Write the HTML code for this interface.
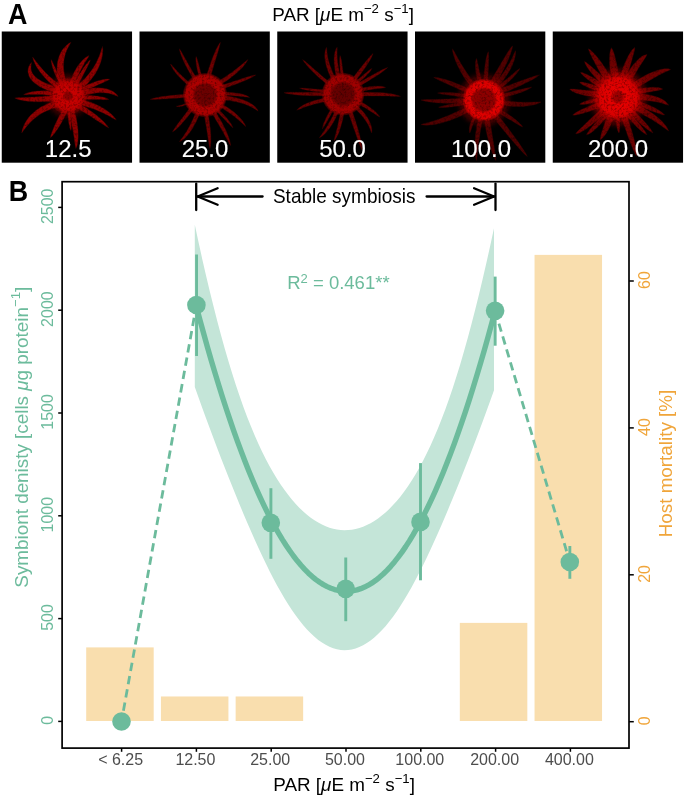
<!DOCTYPE html>
<html lang="en"><head><meta charset="utf-8"><title>Symbiont density vs PAR</title>
<style>
html,body{margin:0;padding:0;background:#fff;}
svg{display:block;}
text{font-family:"Liberation Sans", sans-serif;}
.tl{font-size:16px;fill:#6CBB9C;}
.tr{font-size:16px;fill:#F0A53A;}
.tx{font-size:16px;fill:#4D4D4D;}
.ttl{font-size:18.85px;fill:#000;}
.pl{font-size:24px;fill:#fff;stroke:#fff;stroke-width:0.12px;}
.sup{font-size:13.2px;}
</style></head><body>
<svg width="685" height="800" viewBox="0 0 685 800">
<defs>
<filter id="soft" x="-5%" y="-5%" width="110%" height="110%"><feTurbulence type="fractalNoise" baseFrequency="0.45" numOctaves="2" seed="4" result="n"/><feColorMatrix in="n" type="matrix" values="0 0 0 0 1  0 0 0 0 1  0 0 0 0 1  1.0 0 0 0 0.45" result="a"/><feComposite in="SourceGraphic" in2="a" operator="in"/><feGaussianBlur stdDeviation="0.5"/></filter>
<radialGradient id="g0"><stop offset="0" stop-color="rgb(132,0,0)"/><stop offset="0.18" stop-color="rgb(140,0,0)"/><stop offset="0.3" stop-color="rgb(202,0,0)"/><stop offset="0.75" stop-color="rgb(189,0,0)"/><stop offset="1" stop-color="rgb(149,0,0)" stop-opacity="0.2"/></radialGradient>
<radialGradient id="g1"><stop offset="0" stop-color="rgb(105,0,0)"/><stop offset="0.46" stop-color="rgb(113,0,0)"/><stop offset="0.59" stop-color="rgb(175,0,0)"/><stop offset="0.88" stop-color="rgb(167,0,0)"/><stop offset="1" stop-color="rgb(132,0,0)" stop-opacity="0.3"/></radialGradient>
<radialGradient id="g2"><stop offset="0" stop-color="rgb(97,0,0)"/><stop offset="0.49" stop-color="rgb(104,0,0)"/><stop offset="0.63" stop-color="rgb(162,0,0)"/><stop offset="0.88" stop-color="rgb(154,0,0)"/><stop offset="1" stop-color="rgb(122,0,0)" stop-opacity="0.3"/></radialGradient>
<radialGradient id="g3"><stop offset="0" stop-color="rgb(135,0,0)"/><stop offset="0.49" stop-color="rgb(145,0,0)"/><stop offset="0.63" stop-color="rgb(225,0,0)"/><stop offset="0.88" stop-color="rgb(215,0,0)"/><stop offset="1" stop-color="rgb(170,0,0)" stop-opacity="0.3"/></radialGradient>
<radialGradient id="g4"><stop offset="0" stop-color="rgb(150,0,0)"/><stop offset="0.18" stop-color="rgb(160,0,0)"/><stop offset="0.3" stop-color="rgb(230,0,0)"/><stop offset="0.75" stop-color="rgb(215,0,0)"/><stop offset="1" stop-color="rgb(170,0,0)" stop-opacity="0.2"/></radialGradient>
<filter id="blur3" x="-30%" y="-30%" width="160%" height="160%"><feGaussianBlur stdDeviation="2.5"/></filter>
</defs>
<rect x="0" y="0" width="685" height="800" fill="#fff"/>
<text transform="translate(8.1 23.9) scale(0.94 1)" font-size="28.6" font-weight="bold" fill="#000">A</text>
<text class="ttl" x="343.1" y="20.6" text-anchor="middle">PAR [<tspan font-style="italic">μ</tspan>E m<tspan class="sup" dy="-8">−2</tspan><tspan dy="8"> s</tspan><tspan class="sup" dy="-8">−1</tspan><tspan dy="8">]</tspan></text>
<g>
<rect x="1.75" y="31.5" width="130.3" height="131.2" fill="#000"/>
<g filter="url(#soft)">
<circle cx="68.0" cy="96.0" r="21.7" fill="rgb(200,0,0)" fill-opacity="0.30" filter="url(#blur3)"/>
<g fill="rgb(176,0,0)" fill-opacity="0.80" stroke="rgb(60,0,0)" stroke-opacity="0.55" stroke-width="0.7">
<path d="M68.6 87.2 L67.3 83.8 L66.1 80.5 L65.2 77.3 L64.5 74.2 L64.0 71.3 L63.7 68.4 L63.6 65.6 L63.7 62.9 L64.0 60.3 L64.5 57.7 L65.1 55.1 L65.9 52.6 L66.9 50.1 L68.1 47.6 L69.5 45.0 L70.9 42.2 L70.9 42.2 L68.2 43.8 L65.8 45.9 L63.8 48.1 L61.9 50.6 L60.4 53.3 L59.2 56.1 L58.2 59.0 L57.5 62.1 L57.1 65.3 L56.9 68.6 L57.0 72.0 L57.4 75.4 L58.1 79.0 L59.0 82.6 L60.1 86.3 L61.5 90.1Z"/>
<path d="M73.3 89.5 L74.1 86.7 L75.0 84.0 L76.0 81.4 L76.9 79.0 L77.9 76.6 L78.9 74.3 L79.9 72.1 L80.9 70.0 L81.9 68.0 L83.0 66.0 L84.0 64.2 L85.0 62.4 L86.1 60.7 L87.1 59.0 L88.2 57.4 L89.1 55.6 L89.1 55.6 L87.2 56.4 L85.5 57.5 L83.9 58.9 L82.4 60.3 L80.9 62.0 L79.4 63.7 L78.0 65.6 L76.7 67.6 L75.4 69.8 L74.2 72.0 L73.0 74.4 L71.9 76.8 L70.8 79.4 L69.7 82.1 L68.7 84.9 L67.7 87.7Z"/>
<path d="M74.9 90.7 L76.1 88.4 L77.3 86.2 L78.4 84.1 L79.5 82.0 L80.6 79.9 L81.7 77.9 L82.8 75.9 L83.8 74.0 L84.8 72.2 L85.7 70.3 L86.6 68.5 L87.5 66.8 L88.3 65.1 L89.1 63.4 L89.8 61.7 L90.3 60.0 L90.3 60.0 L88.9 61.1 L87.6 62.5 L86.4 63.9 L85.3 65.4 L84.1 67.0 L82.9 68.6 L81.8 70.4 L80.6 72.2 L79.4 74.0 L78.2 75.9 L77.1 77.9 L75.9 79.9 L74.6 82.0 L73.4 84.1 L72.2 86.3 L70.9 88.5Z"/>
<path d="M77.7 92.5 L80.7 90.0 L83.6 87.5 L86.3 84.9 L88.8 82.2 L91.1 79.5 L93.2 76.7 L95.2 73.9 L96.9 71.0 L98.4 68.1 L99.7 65.0 L100.8 62.0 L101.7 58.9 L102.3 55.8 L102.7 52.6 L102.8 49.4 L102.5 46.2 L102.5 46.2 L101.5 49.2 L100.6 52.2 L99.6 55.0 L98.5 57.8 L97.2 60.6 L95.9 63.3 L94.4 65.9 L92.8 68.5 L91.0 71.1 L89.1 73.6 L87.0 76.0 L84.8 78.5 L82.4 80.9 L79.8 83.2 L77.0 85.5 L74.1 87.8Z"/>
<path d="M78.0 94.8 L80.6 93.4 L83.2 92.0 L85.7 90.8 L88.0 89.6 L90.3 88.5 L92.5 87.4 L94.7 86.4 L96.7 85.5 L98.6 84.6 L100.5 83.7 L102.3 83.0 L103.9 82.2 L105.5 81.5 L107.0 80.8 L108.5 80.1 L109.8 79.3 L109.8 79.3 L108.2 79.0 L106.6 79.0 L104.9 79.2 L103.1 79.5 L101.2 79.9 L99.3 80.4 L97.3 81.0 L95.2 81.7 L93.0 82.5 L90.8 83.4 L88.4 84.3 L86.1 85.4 L83.6 86.5 L81.0 87.7 L78.4 89.0 L75.7 90.4Z"/>
<path d="M78.8 97.3 L82.0 96.2 L85.0 95.3 L88.0 94.5 L90.8 93.9 L93.6 93.4 L96.2 93.0 L98.7 92.8 L101.1 92.7 L103.5 92.8 L105.7 93.0 L107.9 93.3 L110.0 93.7 L112.0 94.2 L114.1 94.9 L116.1 95.7 L118.2 96.4 L118.2 96.4 L116.9 94.5 L115.1 93.0 L113.2 91.6 L111.1 90.5 L108.9 89.5 L106.5 88.8 L104.0 88.3 L101.4 87.9 L98.6 87.8 L95.8 87.8 L92.9 88.0 L89.9 88.4 L86.8 89.0 L83.6 89.8 L80.3 90.7 L76.9 91.8Z"/>
<path d="M77.4 99.8 L80.0 99.7 L82.5 99.6 L84.9 99.6 L87.2 99.5 L89.5 99.5 L91.6 99.5 L93.7 99.5 L95.7 99.6 L97.6 99.6 L99.4 99.6 L101.2 99.6 L102.8 99.7 L104.4 99.7 L105.9 99.7 L107.4 99.6 L108.8 99.4 L108.8 99.4 L107.6 98.6 L106.2 98.0 L104.7 97.5 L103.1 97.1 L101.5 96.7 L99.7 96.4 L97.9 96.1 L95.9 95.9 L93.9 95.7 L91.8 95.5 L89.6 95.4 L87.3 95.3 L84.9 95.3 L82.5 95.2 L79.9 95.2 L77.3 95.2Z"/>
<path d="M75.2 103.8 L78.5 104.5 L81.6 105.3 L84.6 106.1 L87.5 107.0 L90.3 107.9 L93.1 108.8 L95.7 109.8 L98.3 110.9 L100.7 111.9 L103.1 113.0 L105.4 114.2 L107.6 115.3 L109.8 116.5 L111.9 117.7 L114.1 119.0 L116.3 120.1 L116.3 120.1 L115.0 117.9 L113.3 116.0 L111.5 114.2 L109.5 112.5 L107.4 110.9 L105.2 109.3 L102.8 107.9 L100.3 106.5 L97.7 105.2 L95.0 104.0 L92.2 102.8 L89.2 101.8 L86.2 100.7 L83.1 99.8 L79.8 98.9 L76.5 98.1Z"/>
<path d="M72.1 105.8 L74.7 107.2 L77.3 108.6 L79.8 110.0 L82.3 111.4 L84.7 112.8 L87.0 114.2 L89.3 115.6 L91.6 117.0 L93.8 118.5 L96.0 119.9 L98.2 121.3 L100.3 122.7 L102.4 124.1 L104.5 125.4 L106.6 126.8 L108.8 128.0 L108.8 128.0 L107.4 125.8 L105.8 123.9 L104.1 122.0 L102.2 120.2 L100.3 118.5 L98.3 116.7 L96.3 115.0 L94.1 113.4 L91.9 111.8 L89.6 110.2 L87.3 108.6 L84.9 107.0 L82.4 105.5 L79.9 104.0 L77.3 102.5 L74.7 101.0Z"/>
<path d="M66.9 106.3 L67.9 109.6 L68.8 112.8 L69.6 115.9 L70.4 118.9 L71.1 121.8 L71.7 124.7 L72.3 127.4 L72.8 130.1 L73.3 132.7 L73.7 135.2 L74.1 137.6 L74.4 139.9 L74.7 142.2 L75.0 144.4 L75.4 146.5 L75.9 148.6 L75.9 148.6 L76.8 146.6 L77.4 144.5 L77.8 142.2 L78.1 139.8 L78.2 137.4 L78.2 134.8 L78.1 132.1 L78.0 129.4 L77.7 126.6 L77.3 123.7 L76.8 120.7 L76.2 117.6 L75.5 114.5 L74.8 111.2 L73.9 107.9 L73.0 104.5Z"/>
<path d="M64.3 104.6 L63.3 106.9 L62.2 109.2 L61.2 111.5 L60.2 113.7 L59.2 115.8 L58.2 118.0 L57.2 120.0 L56.3 122.1 L55.3 124.1 L54.4 126.1 L53.6 128.1 L52.8 130.0 L52.0 132.0 L51.3 133.9 L50.7 135.8 L50.3 137.8 L50.3 137.8 L51.8 136.5 L53.2 135.0 L54.5 133.4 L55.7 131.7 L57.0 129.9 L58.2 128.1 L59.4 126.3 L60.5 124.3 L61.7 122.4 L62.8 120.3 L64.0 118.2 L65.1 116.1 L66.2 113.9 L67.4 111.7 L68.5 109.4 L69.7 107.1Z"/>
<path d="M61.9 99.1 L58.0 100.1 L54.2 101.2 L50.6 102.4 L47.2 103.8 L43.9 105.4 L40.8 107.1 L37.9 109.0 L35.2 111.0 L32.7 113.2 L30.3 115.6 L28.2 118.1 L26.4 120.8 L24.7 123.6 L23.4 126.5 L22.3 129.6 L21.7 132.9 L21.7 132.9 L23.7 130.3 L25.6 127.8 L27.5 125.4 L29.5 123.2 L31.6 121.1 L33.8 119.1 L36.1 117.2 L38.5 115.5 L41.0 113.8 L43.7 112.3 L46.6 110.9 L49.6 109.7 L52.8 108.5 L56.1 107.5 L59.6 106.5 L63.3 105.8Z"/>
<path d="M59.3 94.6 L55.8 95.0 L52.5 95.4 L49.2 95.8 L46.1 96.1 L43.0 96.4 L40.0 96.6 L37.1 96.8 L34.3 96.9 L31.6 97.1 L29.0 97.2 L26.4 97.3 L24.0 97.4 L21.6 97.5 L19.3 97.5 L17.0 97.7 L14.8 98.0 L14.8 98.0 L16.8 99.0 L19.0 99.7 L21.3 100.3 L23.7 100.8 L26.3 101.1 L28.9 101.4 L31.6 101.6 L34.4 101.8 L37.3 101.8 L40.3 101.8 L43.3 101.7 L46.5 101.6 L49.7 101.4 L53.1 101.1 L56.5 100.8 L60.0 100.4Z"/>
<path d="M60.4 91.8 L57.6 91.5 L54.8 91.2 L52.1 91.0 L49.5 90.9 L46.9 90.8 L44.4 90.7 L42.0 90.8 L39.6 90.9 L37.3 91.0 L35.1 91.3 L33.0 91.6 L30.9 92.0 L29.0 92.5 L27.1 93.0 L25.3 93.7 L23.6 94.6 L23.6 94.6 L25.5 94.7 L27.4 94.7 L29.3 94.6 L31.3 94.6 L33.3 94.5 L35.3 94.5 L37.5 94.5 L39.7 94.6 L42.0 94.6 L44.3 94.8 L46.7 94.9 L49.2 95.1 L51.7 95.3 L54.4 95.6 L57.1 95.9 L59.8 96.3Z"/>
<path d="M62.4 88.5 L57.7 87.3 L53.4 86.0 L49.5 84.6 L46.0 83.2 L42.9 81.8 L40.2 80.3 L37.8 78.8 L35.9 77.3 L34.4 75.8 L33.1 74.3 L32.2 72.7 L31.5 71.1 L31.1 69.3 L31.0 67.3 L31.2 65.1 L31.5 62.5 L31.5 62.5 L29.8 64.6 L28.7 66.8 L28.0 69.2 L27.9 71.6 L28.3 74.1 L29.2 76.5 L30.5 78.8 L32.3 81.0 L34.5 83.1 L37.2 85.0 L40.1 86.9 L43.5 88.6 L47.3 90.2 L51.4 91.8 L55.9 93.3 L60.8 94.7Z"/>
<path d="M64.0 87.6 L61.4 85.8 L58.9 84.1 L56.5 82.3 L54.3 80.4 L52.1 78.6 L49.9 76.7 L47.9 74.8 L46.0 72.9 L44.1 71.0 L42.3 69.1 L40.6 67.1 L38.9 65.1 L37.3 63.1 L35.7 61.1 L34.2 59.0 L32.5 57.0 L32.5 57.0 L33.2 59.5 L34.1 62.0 L35.3 64.4 L36.5 66.7 L38.0 69.0 L39.5 71.3 L41.2 73.5 L43.0 75.7 L44.9 77.8 L46.9 79.9 L49.0 82.0 L51.3 84.0 L53.6 86.0 L56.0 87.9 L58.6 89.8 L61.2 91.7Z"/>
<path d="M65.6 87.2 L64.4 85.2 L63.2 83.2 L62.1 81.2 L61.1 79.3 L60.0 77.4 L59.1 75.6 L58.2 73.8 L57.3 72.0 L56.4 70.3 L55.6 68.6 L54.9 67.0 L54.1 65.4 L53.4 63.9 L52.7 62.4 L52.0 60.9 L51.2 59.6 L51.2 59.6 L51.2 61.2 L51.4 62.8 L51.8 64.4 L52.2 66.1 L52.7 67.9 L53.2 69.6 L53.9 71.4 L54.6 73.2 L55.3 75.1 L56.2 77.0 L57.1 78.9 L58.1 80.9 L59.1 82.9 L60.2 84.9 L61.3 87.0 L62.5 89.1Z"/>
<path d="M66.9 106.5 L67.1 108.7 L67.3 110.9 L67.5 112.9 L67.7 114.8 L67.9 116.7 L68.1 118.4 L68.3 120.1 L68.6 121.7 L68.8 123.1 L69.0 124.5 L69.3 125.7 L69.5 126.9 L69.8 128.0 L70.1 128.9 L70.5 129.8 L70.9 130.5 L70.9 130.5 L71.2 129.7 L71.3 128.8 L71.3 127.8 L71.3 126.7 L71.3 125.5 L71.3 124.2 L71.2 122.9 L71.1 121.4 L71.0 119.8 L70.9 118.2 L70.8 116.4 L70.7 114.6 L70.5 112.6 L70.4 110.6 L70.2 108.5 L70.1 106.2Z"/>
</g>
<circle cx="68.0" cy="96.0" r="18.7" fill="url(#g0)"/>
</g>
<text class="pl" x="68.2" y="156.7" text-anchor="middle">12.5</text>
</g>
<g>
<rect x="139.50" y="31.5" width="130.3" height="131.2" fill="#000"/>
<g filter="url(#soft)">
<g fill="rgb(140,0,0)" fill-opacity="0.80" stroke="rgb(60,0,0)" stroke-opacity="0.55" stroke-width="0.7">
<path d="M208.1 86.2 L208.9 83.0 L209.8 79.8 L210.6 76.8 L211.4 73.7 L212.3 70.8 L213.1 67.9 L213.9 65.1 L214.8 62.3 L215.6 59.6 L216.4 57.0 L217.2 54.4 L217.9 51.9 L218.6 49.4 L219.3 47.0 L220.0 44.6 L220.4 42.2 L220.4 42.2 L218.9 44.2 L217.7 46.4 L216.5 48.6 L215.4 51.0 L214.4 53.4 L213.3 55.9 L212.3 58.5 L211.3 61.2 L210.4 63.9 L209.4 66.7 L208.5 69.6 L207.5 72.6 L206.6 75.6 L205.7 78.7 L204.8 81.9 L203.9 85.1Z"/>
<path d="M204.4 84.7 L203.6 82.3 L203.0 80.0 L202.3 77.8 L201.7 75.6 L201.1 73.6 L200.6 71.6 L200.1 69.7 L199.6 67.9 L199.1 66.2 L198.7 64.5 L198.3 63.0 L197.9 61.5 L197.5 60.2 L197.1 58.9 L196.7 57.7 L196.1 56.6 L196.1 56.6 L195.9 57.8 L195.8 59.1 L195.9 60.5 L196.0 61.9 L196.2 63.4 L196.4 65.0 L196.7 66.7 L197.0 68.5 L197.4 70.3 L197.9 72.3 L198.3 74.3 L198.9 76.4 L199.4 78.6 L200.0 80.8 L200.7 83.2 L201.3 85.6Z"/>
<path d="M201.1 85.2 L199.3 82.4 L197.6 79.7 L196.0 77.1 L194.4 74.5 L192.9 72.0 L191.4 69.5 L190.0 67.1 L188.7 64.8 L187.4 62.5 L186.2 60.3 L185.0 58.2 L183.8 56.1 L182.7 54.2 L181.7 52.3 L180.6 50.4 L179.4 48.7 L179.4 48.7 L179.7 50.8 L180.3 52.8 L181.1 54.9 L181.9 57.1 L182.8 59.3 L183.8 61.5 L184.9 63.8 L186.1 66.2 L187.3 68.6 L188.7 71.1 L190.1 73.6 L191.5 76.2 L193.1 78.8 L194.7 81.5 L196.4 84.3 L198.1 87.1Z"/>
<path d="M197.1 88.9 L194.7 87.0 L192.4 85.1 L190.2 83.2 L188.1 81.5 L186.1 79.7 L184.3 78.0 L182.5 76.4 L180.8 74.8 L179.2 73.2 L177.8 71.7 L176.4 70.2 L175.1 68.9 L173.9 67.5 L172.7 66.2 L171.6 65.0 L170.5 63.9 L170.5 63.9 L171.0 65.4 L171.7 67.0 L172.6 68.5 L173.6 70.1 L174.7 71.6 L176.0 73.3 L177.4 74.9 L178.9 76.6 L180.6 78.3 L182.3 80.1 L184.2 81.8 L186.2 83.7 L188.3 85.5 L190.4 87.4 L192.7 89.4 L195.2 91.3Z"/>
<path d="M213.5 89.0 L216.5 87.3 L219.3 85.5 L222.1 83.7 L224.8 81.9 L227.4 80.2 L229.8 78.4 L232.2 76.6 L234.5 74.8 L236.6 73.0 L238.7 71.1 L240.6 69.3 L242.4 67.4 L244.0 65.5 L245.6 63.6 L246.9 61.6 L248.0 59.6 L248.0 59.6 L246.1 60.9 L244.3 62.4 L242.4 63.9 L240.6 65.5 L238.6 67.1 L236.6 68.7 L234.5 70.3 L232.3 71.9 L230.0 73.6 L227.6 75.2 L225.1 76.9 L222.6 78.6 L219.9 80.2 L217.1 81.9 L214.3 83.6 L211.3 85.3Z"/>
<path d="M215.0 91.5 L218.2 90.4 L221.3 89.4 L224.4 88.3 L227.3 87.3 L230.2 86.3 L233.0 85.3 L235.7 84.3 L238.3 83.3 L240.8 82.3 L243.2 81.3 L245.6 80.3 L247.8 79.3 L250.0 78.3 L252.0 77.3 L253.9 76.2 L255.7 74.9 L255.7 74.9 L253.5 75.3 L251.4 75.8 L249.2 76.4 L247.0 77.1 L244.6 77.8 L242.2 78.6 L239.8 79.4 L237.2 80.2 L234.6 81.1 L231.8 82.0 L229.0 82.9 L226.2 83.8 L223.2 84.8 L220.1 85.7 L217.0 86.7 L213.8 87.7Z"/>
<path d="M215.4 95.8 L218.3 95.7 L221.0 95.6 L223.6 95.6 L226.2 95.5 L228.6 95.6 L231.0 95.6 L233.2 95.7 L235.4 95.9 L237.5 96.0 L239.4 96.2 L241.3 96.4 L243.2 96.6 L244.9 96.9 L246.6 97.1 L248.2 97.3 L249.7 97.4 L249.7 97.4 L248.4 96.5 L246.9 95.7 L245.3 95.1 L243.6 94.5 L241.8 94.0 L239.8 93.6 L237.8 93.2 L235.7 92.9 L233.5 92.7 L231.1 92.5 L228.7 92.3 L226.2 92.2 L223.6 92.2 L220.9 92.2 L218.2 92.2 L215.3 92.3Z"/>
<path d="M214.7 99.2 L218.8 99.4 L222.6 99.7 L226.3 100.2 L229.8 100.6 L233.1 101.2 L236.2 101.8 L239.1 102.5 L241.9 103.3 L244.5 104.1 L246.8 104.9 L249.1 105.9 L251.1 106.9 L253.0 107.9 L254.8 109.0 L256.5 110.1 L258.2 111.2 L258.2 111.2 L257.3 109.3 L256.0 107.6 L254.4 106.1 L252.5 104.6 L250.4 103.2 L248.2 102.0 L245.7 100.9 L243.0 99.8 L240.2 98.9 L237.1 98.0 L233.9 97.3 L230.5 96.6 L226.9 96.1 L223.1 95.6 L219.1 95.2 L215.0 94.8Z"/>
<path d="M212.0 103.2 L214.9 104.6 L217.7 106.0 L220.3 107.4 L222.9 108.8 L225.3 110.3 L227.6 111.7 L229.8 113.2 L231.9 114.7 L234.0 116.2 L235.9 117.7 L237.7 119.2 L239.4 120.7 L241.1 122.2 L242.6 123.7 L244.2 125.2 L245.8 126.6 L245.8 126.6 L245.0 124.6 L243.9 122.7 L242.6 120.8 L241.1 119.0 L239.5 117.2 L237.8 115.5 L235.9 113.8 L233.9 112.1 L231.8 110.4 L229.6 108.8 L227.2 107.2 L224.8 105.7 L222.2 104.1 L219.5 102.6 L216.7 101.1 L213.7 99.7Z"/>
<path d="M210.3 105.6 L212.2 107.3 L214.0 109.0 L215.8 110.7 L217.4 112.3 L219.1 113.8 L220.6 115.4 L222.1 116.9 L223.5 118.3 L224.8 119.7 L226.1 121.1 L227.3 122.4 L228.5 123.6 L229.7 124.8 L230.8 125.9 L231.8 127.0 L233.0 128.0 L233.0 128.0 L232.5 126.5 L231.8 125.2 L231.0 123.8 L230.0 122.4 L229.0 121.0 L227.9 119.5 L226.7 118.0 L225.4 116.5 L224.1 115.0 L222.6 113.4 L221.1 111.8 L219.5 110.2 L217.9 108.5 L216.2 106.8 L214.4 105.0 L212.5 103.2Z"/>
<path d="M207.2 106.6 L209.1 109.4 L211.0 112.2 L212.8 115.0 L214.5 117.6 L216.1 120.3 L217.7 122.9 L219.2 125.4 L220.7 127.9 L222.0 130.3 L223.4 132.7 L224.6 135.0 L225.8 137.3 L227.0 139.5 L228.2 141.6 L229.3 143.7 L230.6 145.7 L230.6 145.7 L230.4 143.3 L229.8 141.0 L229.1 138.6 L228.3 136.2 L227.3 133.7 L226.3 131.3 L225.1 128.7 L223.8 126.2 L222.5 123.6 L221.1 120.9 L219.5 118.3 L217.9 115.5 L216.3 112.8 L214.5 109.9 L212.7 107.1 L210.7 104.2Z"/>
<path d="M202.4 106.3 L203.1 109.6 L203.7 112.8 L204.3 115.9 L204.9 118.9 L205.4 121.8 L205.9 124.6 L206.4 127.4 L206.8 130.1 L207.2 132.7 L207.6 135.2 L207.9 137.7 L208.3 140.0 L208.6 142.3 L209.0 144.5 L209.4 146.6 L209.9 148.6 L209.9 148.6 L210.5 146.6 L210.7 144.4 L210.9 142.2 L210.9 139.8 L210.9 137.4 L210.8 134.9 L210.6 132.3 L210.4 129.6 L210.1 126.9 L209.7 124.1 L209.3 121.2 L208.9 118.2 L208.4 115.1 L207.8 112.0 L207.3 108.8 L206.6 105.4Z"/>
<path d="M198.5 104.7 L197.4 108.0 L196.2 111.1 L195.1 114.1 L193.9 117.0 L192.7 119.7 L191.5 122.3 L190.3 124.8 L189.0 127.1 L187.8 129.3 L186.6 131.4 L185.3 133.3 L184.1 135.2 L182.9 136.9 L181.7 138.5 L180.5 140.1 L179.4 141.7 L179.4 141.7 L181.2 140.9 L182.9 139.8 L184.6 138.4 L186.2 136.8 L187.7 135.1 L189.2 133.2 L190.7 131.1 L192.2 128.9 L193.6 126.6 L194.9 124.1 L196.3 121.4 L197.6 118.6 L198.9 115.7 L200.2 112.6 L201.4 109.4 L202.6 106.1Z"/>
<path d="M195.0 100.8 L193.2 103.3 L191.4 105.8 L189.6 108.2 L187.9 110.4 L186.3 112.6 L184.7 114.8 L183.2 116.8 L181.7 118.7 L180.3 120.6 L178.9 122.4 L177.6 124.1 L176.4 125.8 L175.3 127.3 L174.2 128.9 L173.3 130.4 L172.5 131.9 L172.5 131.9 L174.0 131.0 L175.4 129.9 L176.8 128.7 L178.2 127.3 L179.7 125.9 L181.2 124.3 L182.7 122.6 L184.2 120.8 L185.8 118.9 L187.5 116.9 L189.1 114.9 L190.9 112.7 L192.6 110.4 L194.4 108.1 L196.3 105.6 L198.2 103.1Z"/>
<path d="M195.1 93.8 L191.7 93.9 L188.3 94.1 L185.1 94.3 L181.9 94.5 L178.8 94.8 L175.8 95.0 L172.9 95.3 L170.0 95.6 L167.2 95.9 L164.5 96.2 L161.9 96.6 L159.4 97.0 L157.0 97.5 L154.6 98.0 L152.4 98.6 L150.2 99.4 L150.2 99.4 L152.5 99.5 L154.8 99.4 L157.2 99.3 L159.7 99.2 L162.2 99.0 L164.8 98.9 L167.5 98.7 L170.3 98.5 L173.1 98.3 L176.0 98.2 L179.0 98.0 L182.1 97.8 L185.3 97.7 L188.5 97.5 L191.8 97.4 L195.2 97.3Z"/>
<path d="M192.4 100.4 L190.6 101.2 L189.0 102.0 L187.5 102.7 L186.0 103.3 L184.7 103.8 L183.5 104.3 L182.3 104.7 L181.3 105.0 L180.4 105.3 L179.5 105.6 L178.8 105.7 L178.2 105.8 L177.6 105.9 L177.2 105.9 L176.8 105.9 L176.4 105.9 L176.4 105.9 L176.6 106.3 L177.0 106.5 L177.6 106.7 L178.2 106.8 L178.9 106.8 L179.8 106.7 L180.7 106.5 L181.7 106.3 L182.8 106.0 L183.9 105.6 L185.2 105.2 L186.6 104.6 L188.1 104.0 L189.6 103.4 L191.3 102.7 L193.0 101.9Z"/>
</g>
<circle cx="205.0" cy="95.0" r="22.1" fill="url(#g1)"/>
</g>
<text class="pl" x="205.0" y="156.7" text-anchor="middle">25.0</text>
</g>
<g>
<rect x="277.25" y="31.5" width="130.3" height="131.2" fill="#000"/>
<g filter="url(#soft)">
<g fill="rgb(135,0,0)" fill-opacity="0.80" stroke="rgb(60,0,0)" stroke-opacity="0.55" stroke-width="0.7">
<path d="M339.4 85.1 L337.7 82.1 L336.1 79.2 L334.7 76.4 L333.4 73.7 L332.2 71.0 L331.2 68.5 L330.2 66.0 L329.4 63.7 L328.8 61.4 L328.2 59.2 L327.7 57.0 L327.4 55.0 L327.1 53.0 L326.9 51.1 L326.8 49.2 L326.6 47.3 L326.6 47.3 L325.7 49.1 L325.2 51.0 L324.9 53.0 L324.7 55.2 L324.8 57.4 L325.0 59.7 L325.4 62.1 L326.0 64.6 L326.7 67.2 L327.5 69.8 L328.5 72.5 L329.7 75.3 L331.0 78.2 L332.4 81.1 L334.0 84.2 L335.7 87.3Z"/>
<path d="M342.6 84.6 L341.7 81.5 L340.9 78.5 L340.2 75.6 L339.5 72.8 L339.0 70.1 L338.5 67.6 L338.1 65.1 L337.8 62.7 L337.5 60.5 L337.3 58.4 L337.2 56.3 L337.1 54.4 L337.1 52.5 L337.1 50.8 L337.2 49.1 L337.1 47.3 L337.1 47.3 L336.1 48.8 L335.4 50.5 L334.9 52.3 L334.5 54.2 L334.2 56.3 L334.1 58.4 L334.1 60.7 L334.2 63.1 L334.4 65.6 L334.7 68.1 L335.1 70.8 L335.6 73.6 L336.1 76.5 L336.8 79.5 L337.6 82.6 L338.4 85.8Z"/>
<path d="M344.6 85.0 L344.3 82.6 L344.0 80.3 L343.8 78.0 L343.5 75.8 L343.3 73.7 L343.1 71.6 L342.8 69.7 L342.6 67.8 L342.3 66.0 L342.1 64.3 L341.8 62.6 L341.6 61.1 L341.3 59.6 L340.9 58.2 L340.6 56.9 L340.0 55.6 L340.0 55.6 L339.8 56.9 L339.7 58.3 L339.6 59.7 L339.6 61.3 L339.7 62.8 L339.7 64.5 L339.8 66.3 L340.0 68.1 L340.1 70.0 L340.3 71.9 L340.4 74.0 L340.6 76.1 L340.8 78.3 L341.0 80.6 L341.2 82.9 L341.4 85.3Z"/>
<path d="M350.1 88.0 L352.0 85.6 L353.8 83.2 L355.6 80.9 L357.3 78.6 L358.9 76.4 L360.6 74.2 L362.1 72.0 L363.6 69.9 L365.1 67.8 L366.5 65.7 L367.8 63.7 L369.0 61.7 L370.2 59.7 L371.3 57.7 L372.2 55.7 L373.0 53.6 L373.0 53.6 L371.3 55.1 L369.8 56.7 L368.3 58.4 L366.9 60.1 L365.4 61.9 L363.9 63.8 L362.3 65.7 L360.7 67.7 L359.1 69.8 L357.5 71.8 L355.8 74.0 L354.1 76.2 L352.3 78.4 L350.5 80.6 L348.6 83.0 L346.7 85.3Z"/>
<path d="M350.9 89.1 L352.8 87.5 L354.6 86.0 L356.4 84.5 L358.1 83.1 L359.8 81.7 L361.3 80.3 L362.8 79.0 L364.2 77.7 L365.5 76.5 L366.7 75.3 L367.8 74.1 L368.9 72.9 L369.8 71.8 L370.7 70.7 L371.4 69.6 L372.0 68.4 L372.0 68.4 L370.9 69.0 L369.8 69.8 L368.7 70.6 L367.6 71.5 L366.4 72.5 L365.1 73.5 L363.8 74.6 L362.4 75.7 L361.0 76.9 L359.5 78.2 L357.9 79.5 L356.2 80.8 L354.5 82.2 L352.7 83.6 L350.9 85.1 L348.9 86.6Z"/>
<path d="M351.7 90.7 L354.5 89.1 L357.3 87.5 L359.9 85.9 L362.5 84.4 L365.0 82.9 L367.5 81.4 L369.9 80.0 L372.2 78.6 L374.4 77.2 L376.6 75.8 L378.7 74.4 L380.7 73.1 L382.6 71.7 L384.4 70.3 L386.2 69.0 L387.7 67.4 L387.7 67.4 L385.7 68.2 L383.7 69.1 L381.6 70.1 L379.5 71.2 L377.4 72.3 L375.2 73.5 L373.0 74.7 L370.7 76.0 L368.3 77.3 L365.9 78.7 L363.4 80.1 L360.9 81.5 L358.2 83.0 L355.6 84.5 L352.8 86.0 L350.0 87.6Z"/>
<path d="M353.3 93.3 L356.0 92.6 L358.7 92.0 L361.2 91.5 L363.7 90.9 L366.1 90.5 L368.3 90.0 L370.5 89.7 L372.6 89.3 L374.6 89.0 L376.4 88.8 L378.2 88.6 L379.9 88.4 L381.5 88.2 L383.0 88.0 L384.4 87.8 L385.8 87.5 L385.8 87.5 L384.5 87.0 L383.0 86.6 L381.5 86.3 L379.8 86.2 L378.1 86.1 L376.2 86.2 L374.3 86.2 L372.2 86.4 L370.1 86.6 L367.9 86.9 L365.5 87.3 L363.1 87.7 L360.6 88.1 L358.0 88.7 L355.2 89.2 L352.4 89.9Z"/>
<path d="M353.4 96.5 L357.1 96.3 L360.7 96.2 L364.2 96.0 L367.6 95.9 L370.9 95.9 L374.0 95.9 L377.1 95.9 L380.1 95.9 L383.0 96.0 L385.8 96.0 L388.4 96.1 L391.0 96.2 L393.5 96.3 L395.9 96.4 L398.3 96.5 L400.5 96.4 L400.5 96.4 L398.4 95.5 L396.2 94.9 L393.8 94.3 L391.3 93.8 L388.7 93.4 L386.0 93.1 L383.2 92.8 L380.2 92.6 L377.2 92.5 L374.1 92.4 L370.9 92.3 L367.5 92.3 L364.1 92.3 L360.6 92.3 L357.0 92.4 L353.2 92.6Z"/>
<path d="M351.5 100.6 L353.9 101.7 L356.2 102.9 L358.4 104.1 L360.5 105.2 L362.5 106.4 L364.4 107.5 L366.3 108.6 L368.0 109.7 L369.7 110.7 L371.3 111.8 L372.9 112.8 L374.4 113.7 L375.8 114.7 L377.1 115.6 L378.5 116.4 L379.8 117.1 L379.8 117.1 L379.1 115.7 L378.1 114.5 L376.9 113.2 L375.7 112.0 L374.3 110.8 L372.9 109.6 L371.3 108.4 L369.7 107.2 L367.9 106.0 L366.1 104.8 L364.1 103.6 L362.1 102.4 L360.0 101.1 L357.8 99.9 L355.5 98.7 L353.2 97.4Z"/>
<path d="M349.1 103.5 L351.6 105.5 L353.8 107.5 L356.0 109.5 L358.0 111.4 L359.8 113.4 L361.5 115.3 L363.0 117.1 L364.4 119.0 L365.7 120.8 L366.8 122.6 L367.9 124.3 L368.8 126.1 L369.5 127.8 L370.3 129.5 L370.9 131.2 L371.6 132.9 L371.6 132.9 L371.9 131.0 L371.8 129.1 L371.5 127.2 L371.0 125.2 L370.3 123.2 L369.4 121.2 L368.4 119.2 L367.1 117.1 L365.7 115.1 L364.2 113.0 L362.5 111.0 L360.6 108.9 L358.6 106.8 L356.4 104.7 L354.1 102.6 L351.6 100.4Z"/>
<path d="M345.4 104.6 L346.7 108.2 L347.9 111.6 L349.1 114.9 L350.3 118.2 L351.4 121.3 L352.5 124.4 L353.5 127.4 L354.5 130.3 L355.5 133.1 L356.5 135.9 L357.4 138.5 L358.3 141.0 L359.2 143.5 L360.1 145.8 L361.0 148.1 L362.1 150.2 L362.1 150.2 L362.1 147.8 L361.8 145.4 L361.4 142.9 L360.8 140.3 L360.2 137.7 L359.6 134.9 L358.8 132.1 L358.0 129.2 L357.1 126.3 L356.2 123.2 L355.2 120.1 L354.1 116.9 L353.0 113.6 L351.9 110.2 L350.7 106.7 L349.5 103.2Z"/>
<path d="M341.5 104.1 L341.1 107.1 L340.7 109.9 L340.3 112.7 L339.8 115.4 L339.3 118.0 L338.8 120.4 L338.3 122.8 L337.8 125.2 L337.3 127.4 L336.8 129.5 L336.3 131.5 L335.8 133.5 L335.3 135.4 L334.8 137.2 L334.4 139.0 L334.1 140.8 L334.1 140.8 L335.3 139.4 L336.3 137.8 L337.2 136.1 L338.1 134.3 L338.9 132.4 L339.6 130.3 L340.3 128.2 L341.0 126.0 L341.7 123.6 L342.3 121.2 L342.9 118.7 L343.4 116.1 L344.0 113.4 L344.5 110.6 L345.0 107.7 L345.4 104.7Z"/>
<path d="M338.2 103.2 L337.0 106.2 L335.8 109.1 L334.6 111.8 L333.4 114.5 L332.2 117.0 L331.0 119.4 L329.7 121.7 L328.5 123.8 L327.3 125.9 L326.1 127.9 L324.9 129.7 L323.8 131.5 L322.6 133.1 L321.5 134.7 L320.4 136.2 L319.3 137.8 L319.3 137.8 L321.0 136.9 L322.6 135.8 L324.1 134.5 L325.6 133.0 L327.1 131.3 L328.5 129.5 L330.0 127.6 L331.3 125.6 L332.7 123.4 L334.1 121.1 L335.4 118.6 L336.7 116.1 L338.0 113.4 L339.3 110.6 L340.6 107.7 L341.9 104.6Z"/>
<path d="M335.8 101.1 L334.4 103.2 L333.2 105.2 L332.0 107.2 L330.8 109.1 L329.7 111.0 L328.7 112.9 L327.7 114.7 L326.8 116.4 L326.0 118.1 L325.2 119.8 L324.5 121.4 L323.8 123.0 L323.3 124.5 L322.8 126.0 L322.5 127.5 L322.3 128.9 L322.3 128.9 L323.2 127.8 L324.0 126.5 L324.8 125.2 L325.6 123.8 L326.4 122.4 L327.3 120.9 L328.2 119.3 L329.1 117.7 L330.1 116.0 L331.1 114.3 L332.2 112.5 L333.4 110.7 L334.5 108.8 L335.8 106.8 L337.1 104.8 L338.4 102.8Z"/>
<path d="M333.4 96.5 L330.2 97.0 L327.2 97.5 L324.3 98.1 L321.5 98.7 L318.8 99.4 L316.2 100.0 L313.7 100.8 L311.3 101.6 L309.1 102.4 L306.9 103.3 L304.8 104.3 L302.9 105.3 L301.1 106.4 L299.5 107.5 L297.9 108.8 L296.7 110.2 L296.7 110.2 L298.5 109.6 L300.2 108.9 L302.0 108.2 L303.9 107.5 L305.9 106.8 L307.9 106.1 L310.1 105.4 L312.3 104.7 L314.7 104.1 L317.1 103.5 L319.6 102.9 L322.3 102.3 L325.0 101.8 L327.9 101.3 L330.8 100.9 L333.9 100.4Z"/>
<path d="M333.1 91.8 L329.5 91.9 L326.1 92.0 L322.7 92.1 L319.3 92.2 L316.0 92.2 L312.8 92.3 L309.7 92.3 L306.6 92.3 L303.5 92.3 L300.6 92.3 L297.6 92.3 L294.8 92.3 L292.0 92.3 L289.2 92.3 L286.5 92.4 L283.9 92.7 L283.9 92.7 L286.4 93.4 L289.1 93.9 L291.8 94.3 L294.6 94.7 L297.5 95.0 L300.4 95.2 L303.4 95.4 L306.5 95.6 L309.6 95.7 L312.8 95.8 L316.0 95.8 L319.4 95.9 L322.7 95.9 L326.2 95.8 L329.6 95.8 L333.2 95.7Z"/>
<path d="M332.9 90.4 L330.2 90.2 L327.5 90.0 L325.0 89.8 L322.5 89.6 L320.1 89.5 L317.8 89.3 L315.6 89.1 L313.5 88.9 L311.5 88.7 L309.5 88.6 L307.7 88.4 L305.9 88.3 L304.2 88.2 L302.6 88.1 L301.1 88.0 L299.6 88.1 L299.6 88.1 L301.0 88.7 L302.4 89.2 L304.0 89.6 L305.7 89.9 L307.4 90.3 L309.3 90.6 L311.2 90.9 L313.2 91.2 L315.4 91.5 L317.6 91.7 L319.9 92.0 L322.3 92.2 L324.7 92.5 L327.3 92.7 L330.0 92.9 L332.7 93.2Z"/>
<path d="M335.7 87.3 L333.1 85.1 L330.6 83.1 L328.1 81.1 L325.7 79.1 L323.4 77.2 L321.2 75.3 L319.1 73.4 L317.0 71.6 L315.0 69.9 L313.1 68.2 L311.2 66.6 L309.4 65.0 L307.7 63.5 L306.0 62.1 L304.3 60.8 L302.6 59.6 L302.6 59.6 L303.7 61.4 L305.0 63.1 L306.4 64.8 L307.9 66.6 L309.5 68.4 L311.3 70.2 L313.1 72.0 L315.0 73.8 L317.0 75.7 L319.1 77.7 L321.3 79.6 L323.6 81.6 L325.9 83.6 L328.4 85.7 L330.9 87.8 L333.5 90.0Z"/>
</g>
<circle cx="343.0" cy="94.1" r="21.3" fill="url(#g2)"/>
</g>
<text class="pl" x="342.6" y="156.7" text-anchor="middle">50.0</text>
</g>
<g>
<rect x="415.00" y="31.5" width="130.3" height="131.2" fill="#000"/>
<g filter="url(#soft)">
<circle cx="483.9" cy="100.0" r="25.6" fill="rgb(200,0,0)" fill-opacity="0.35" filter="url(#blur3)"/>
<g fill="rgb(140,0,0)" fill-opacity="0.58" stroke="rgb(60,0,0)" stroke-opacity="0.55" stroke-width="0.7">
<path d="M480.6 90.8 L478.3 88.0 L476.0 85.2 L473.8 82.4 L471.8 79.7 L469.8 76.9 L467.9 74.2 L466.0 71.6 L464.3 68.9 L462.6 66.3 L461.0 63.7 L459.5 61.1 L458.1 58.6 L456.6 56.0 L455.3 53.6 L453.9 51.1 L452.4 48.7 L452.4 48.7 L452.7 51.5 L453.4 54.3 L454.2 57.1 L455.2 59.9 L456.3 62.7 L457.6 65.5 L459.0 68.3 L460.5 71.2 L462.1 74.0 L463.8 76.9 L465.7 79.7 L467.6 82.6 L469.7 85.5 L471.8 88.4 L474.1 91.4 L476.4 94.3Z"/>
<path d="M484.6 90.5 L483.8 87.8 L483.1 85.3 L482.4 82.8 L481.7 80.4 L481.1 78.1 L480.6 75.9 L480.1 73.8 L479.6 71.8 L479.1 69.9 L478.7 68.0 L478.4 66.2 L478.0 64.5 L477.6 62.9 L477.3 61.4 L477.0 60.0 L476.5 58.6 L476.5 58.6 L475.9 60.0 L475.6 61.5 L475.5 63.1 L475.4 64.8 L475.4 66.6 L475.5 68.5 L475.7 70.4 L475.9 72.5 L476.3 74.6 L476.7 76.8 L477.1 79.1 L477.6 81.4 L478.2 83.9 L478.9 86.4 L479.6 89.0 L480.3 91.7Z"/>
<path d="M487.4 90.9 L487.5 87.8 L487.6 84.8 L487.8 81.8 L487.9 79.0 L488.0 76.2 L488.1 73.6 L488.2 71.0 L488.4 68.5 L488.5 66.1 L488.5 63.8 L488.6 61.6 L488.7 59.4 L488.7 57.4 L488.6 55.4 L488.6 53.5 L488.3 51.7 L488.3 51.7 L487.5 53.4 L487.0 55.2 L486.5 57.1 L486.0 59.2 L485.7 61.3 L485.3 63.5 L485.0 65.8 L484.7 68.2 L484.4 70.7 L484.1 73.3 L483.9 76.0 L483.7 78.7 L483.5 81.6 L483.2 84.5 L483.1 87.6 L482.9 90.7Z"/>
<path d="M490.6 93.2 L492.6 89.7 L494.6 86.3 L496.5 82.9 L498.3 79.7 L500.0 76.5 L501.7 73.3 L503.2 70.3 L504.7 67.3 L506.1 64.4 L507.4 61.6 L508.6 58.8 L509.7 56.1 L510.6 53.5 L511.5 50.9 L512.2 48.3 L512.5 45.8 L512.5 45.8 L510.8 47.7 L509.3 49.9 L507.9 52.1 L506.4 54.5 L504.9 56.9 L503.3 59.5 L501.8 62.1 L500.1 64.9 L498.5 67.7 L496.8 70.6 L495.0 73.6 L493.1 76.7 L491.2 79.9 L489.3 83.2 L487.3 86.5 L485.2 90.0Z"/>
<path d="M491.7 94.3 L494.4 91.2 L497.0 88.2 L499.5 85.3 L501.8 82.3 L503.9 79.5 L505.9 76.6 L507.7 73.8 L509.3 71.1 L510.8 68.4 L512.1 65.7 L513.2 63.1 L514.1 60.5 L514.8 58.0 L515.3 55.5 L515.6 53.1 L515.5 50.7 L515.5 50.7 L514.5 52.8 L513.5 55.0 L512.5 57.2 L511.4 59.4 L510.2 61.7 L508.9 64.1 L507.4 66.5 L505.9 69.0 L504.1 71.5 L502.3 74.1 L500.3 76.8 L498.1 79.5 L495.8 82.2 L493.4 85.1 L490.8 87.9 L488.0 90.9Z"/>
<path d="M492.3 95.4 L494.8 93.4 L497.2 91.5 L499.5 89.7 L501.7 87.9 L503.8 86.1 L505.9 84.3 L507.8 82.6 L509.6 80.9 L511.3 79.3 L512.9 77.7 L514.4 76.1 L515.7 74.5 L517.0 73.0 L518.1 71.5 L519.1 70.0 L519.8 68.4 L519.8 68.4 L518.4 69.4 L517.0 70.5 L515.6 71.6 L514.1 72.9 L512.5 74.2 L510.9 75.5 L509.2 77.0 L507.4 78.4 L505.5 80.0 L503.5 81.6 L501.5 83.2 L499.3 84.9 L497.1 86.6 L494.8 88.4 L492.3 90.3 L489.8 92.1Z"/>
<path d="M492.8 97.1 L496.2 95.8 L499.6 94.4 L502.9 93.1 L506.1 91.8 L509.3 90.5 L512.4 89.2 L515.4 87.8 L518.4 86.5 L521.3 85.2 L524.2 83.8 L526.9 82.5 L529.6 81.1 L532.3 79.7 L534.8 78.2 L537.2 76.7 L539.5 74.9 L539.5 74.9 L536.7 75.5 L534.0 76.3 L531.2 77.2 L528.4 78.2 L525.5 79.2 L522.6 80.2 L519.7 81.3 L516.7 82.4 L513.7 83.5 L510.6 84.7 L507.4 85.9 L504.2 87.1 L501.0 88.3 L497.7 89.5 L494.3 90.8 L490.9 92.0Z"/>
<path d="M493.8 100.0 L497.0 99.2 L500.1 98.5 L503.1 97.7 L506.0 96.9 L508.7 96.2 L511.4 95.4 L514.0 94.7 L516.4 93.9 L518.7 93.2 L521.0 92.4 L523.1 91.6 L525.0 90.8 L526.9 90.0 L528.6 89.1 L530.2 88.2 L531.6 87.2 L531.6 87.2 L529.9 87.3 L528.1 87.7 L526.3 88.1 L524.3 88.6 L522.2 89.1 L520.1 89.6 L517.9 90.1 L515.5 90.7 L513.0 91.3 L510.5 92.0 L507.8 92.6 L505.0 93.3 L502.2 93.9 L499.2 94.6 L496.1 95.3 L492.9 96.0Z"/>
<path d="M493.3 104.1 L497.0 104.7 L500.6 105.2 L504.1 105.7 L507.6 106.0 L510.9 106.3 L514.2 106.5 L517.3 106.5 L520.4 106.5 L523.4 106.4 L526.2 106.1 L529.0 105.8 L531.7 105.3 L534.2 104.7 L536.7 104.0 L539.0 103.1 L541.1 101.9 L541.1 101.9 L538.7 101.9 L536.3 102.0 L533.8 102.1 L531.3 102.2 L528.7 102.2 L526.0 102.2 L523.3 102.2 L520.4 102.1 L517.5 101.9 L514.5 101.7 L511.3 101.4 L508.1 101.0 L504.8 100.5 L501.4 100.0 L497.9 99.4 L494.3 98.8Z"/>
<path d="M490.7 108.8 L493.2 110.2 L495.5 111.5 L497.8 112.7 L500.1 114.0 L502.3 115.2 L504.4 116.5 L506.4 117.7 L508.4 118.9 L510.4 120.0 L512.2 121.1 L514.1 122.2 L515.9 123.3 L517.6 124.3 L519.3 125.3 L521.0 126.2 L522.8 127.0 L522.8 127.0 L521.7 125.4 L520.4 124.0 L518.9 122.6 L517.4 121.2 L515.8 119.8 L514.1 118.5 L512.3 117.1 L510.4 115.8 L508.5 114.4 L506.5 113.1 L504.4 111.7 L502.2 110.4 L500.0 109.0 L497.7 107.6 L495.4 106.3 L492.9 104.9Z"/>
<path d="M487.7 110.5 L490.4 113.9 L493.1 117.2 L495.8 120.5 L498.3 123.7 L500.9 126.9 L503.4 130.0 L505.9 133.0 L508.3 135.9 L510.7 138.8 L513.1 141.6 L515.5 144.3 L517.8 147.0 L520.1 149.5 L522.5 152.0 L524.8 154.4 L527.3 156.5 L527.3 156.5 L525.8 153.6 L524.1 150.8 L522.2 147.9 L520.3 145.0 L518.3 142.1 L516.2 139.2 L514.0 136.2 L511.8 133.2 L509.5 130.1 L507.2 127.0 L504.8 123.8 L502.3 120.6 L499.8 117.3 L497.3 114.0 L494.7 110.6 L492.0 107.2Z"/>
<path d="M482.5 110.2 L483.1 114.0 L483.7 117.7 L484.4 121.4 L485.0 124.9 L485.7 128.4 L486.4 131.7 L487.1 135.0 L487.9 138.2 L488.7 141.4 L489.5 144.4 L490.3 147.3 L491.3 150.2 L492.2 152.9 L493.3 155.6 L494.4 158.1 L495.8 160.5 L495.8 160.5 L495.7 157.7 L495.4 155.0 L495.0 152.2 L494.6 149.4 L494.1 146.4 L493.6 143.5 L493.1 140.4 L492.6 137.3 L492.1 134.1 L491.5 130.8 L491.0 127.4 L490.4 124.0 L489.9 120.5 L489.4 116.8 L488.9 113.2 L488.3 109.4Z"/>
<path d="M480.0 109.2 L479.2 113.0 L478.4 116.8 L477.7 120.4 L477.0 124.0 L476.5 127.5 L476.0 130.9 L475.6 134.3 L475.3 137.5 L475.0 140.7 L474.9 143.8 L474.8 146.8 L474.9 149.7 L475.0 152.5 L475.3 155.3 L475.7 157.9 L476.5 160.5 L476.5 160.5 L476.9 157.9 L477.2 155.3 L477.5 152.6 L477.8 149.8 L478.1 147.0 L478.4 144.1 L478.8 141.1 L479.3 138.0 L479.8 134.8 L480.3 131.6 L480.9 128.3 L481.6 124.9 L482.3 121.4 L483.1 117.8 L484.0 114.1 L484.9 110.4Z"/>
<path d="M476.9 107.5 L475.9 109.5 L475.0 111.5 L474.1 113.4 L473.3 115.3 L472.6 117.1 L471.9 118.8 L471.3 120.5 L470.8 122.1 L470.3 123.7 L469.9 125.2 L469.6 126.6 L469.4 128.0 L469.3 129.3 L469.3 130.6 L469.4 131.8 L469.8 132.9 L469.8 132.9 L470.3 131.9 L470.7 130.8 L471.1 129.7 L471.5 128.5 L471.9 127.2 L472.4 125.9 L473.0 124.5 L473.5 123.1 L474.2 121.6 L474.9 120.0 L475.6 118.4 L476.4 116.7 L477.2 114.9 L478.1 113.0 L479.1 111.1 L480.1 109.2Z"/>
<path d="M474.1 102.8 L470.1 105.0 L466.2 107.1 L462.4 109.1 L458.6 110.9 L455.0 112.6 L451.4 114.2 L448.0 115.7 L444.6 117.0 L441.3 118.3 L438.2 119.4 L435.1 120.4 L432.1 121.4 L429.2 122.2 L426.3 123.0 L423.6 123.7 L420.9 124.6 L420.9 124.6 L423.7 125.1 L426.6 125.2 L429.7 125.0 L432.8 124.7 L436.0 124.2 L439.3 123.5 L442.7 122.6 L446.2 121.6 L449.8 120.4 L453.4 119.0 L457.1 117.6 L460.9 115.9 L464.8 114.1 L468.8 112.2 L472.9 110.2 L477.0 108.0Z"/>
<path d="M474.3 99.9 L471.3 100.4 L468.4 100.9 L465.7 101.4 L463.0 101.9 L460.4 102.4 L458.0 102.8 L455.6 103.3 L453.3 103.7 L451.1 104.1 L449.0 104.5 L447.0 104.9 L445.2 105.4 L443.4 105.8 L441.7 106.2 L440.1 106.7 L438.6 107.3 L438.6 107.3 L440.2 107.5 L441.9 107.5 L443.6 107.5 L445.4 107.4 L447.4 107.3 L449.4 107.1 L451.5 106.9 L453.8 106.6 L456.1 106.3 L458.5 106.0 L461.0 105.6 L463.6 105.2 L466.3 104.8 L469.0 104.4 L471.9 103.9 L474.9 103.4Z"/>
<path d="M474.1 97.2 L470.2 97.6 L466.3 97.9 L462.6 98.2 L458.9 98.4 L455.4 98.7 L451.8 98.8 L448.4 99.0 L445.1 99.1 L441.8 99.2 L438.6 99.3 L435.5 99.4 L432.4 99.5 L429.4 99.5 L426.5 99.6 L423.7 99.7 L420.9 100.0 L420.9 100.0 L423.6 100.8 L426.4 101.4 L429.3 101.9 L432.3 102.3 L435.4 102.7 L438.5 102.9 L441.8 103.1 L445.1 103.2 L448.5 103.3 L452.0 103.3 L455.5 103.2 L459.2 103.1 L462.9 102.9 L466.7 102.7 L470.6 102.5 L474.5 102.2Z"/>
<path d="M475.5 95.2 L472.5 94.8 L469.5 94.4 L466.6 94.1 L463.8 93.8 L461.1 93.5 L458.5 93.2 L456.0 93.0 L453.6 92.8 L451.3 92.6 L449.1 92.5 L446.9 92.4 L444.9 92.4 L442.9 92.4 L441.1 92.5 L439.3 92.7 L437.6 93.1 L437.6 93.1 L439.3 93.5 L441.0 93.9 L442.8 94.2 L444.7 94.5 L446.7 94.8 L448.8 95.1 L451.0 95.4 L453.3 95.7 L455.7 96.0 L458.2 96.4 L460.7 96.7 L463.4 97.1 L466.2 97.5 L469.0 97.9 L472.0 98.3 L475.0 98.8Z"/>
<path d="M477.7 92.8 L474.4 91.3 L471.2 89.8 L468.1 88.4 L465.1 87.0 L462.1 85.7 L459.2 84.5 L456.3 83.4 L453.6 82.3 L450.9 81.3 L448.2 80.4 L445.7 79.6 L443.1 78.9 L440.7 78.3 L438.3 77.8 L436.0 77.4 L433.7 77.3 L433.7 77.3 L435.7 78.5 L437.7 79.5 L439.9 80.6 L442.2 81.6 L444.5 82.7 L446.9 83.8 L449.4 84.9 L452.0 86.1 L454.7 87.3 L457.4 88.6 L460.2 89.9 L463.1 91.2 L466.1 92.7 L469.1 94.1 L472.3 95.7 L475.5 97.3Z"/>
</g>
<circle cx="483.9" cy="100.0" r="21.3" fill="url(#g3)"/>
</g>
<text class="pl" x="481.0" y="156.7" text-anchor="middle">100.0</text>
</g>
<g>
<rect x="552.75" y="31.5" width="130.3" height="131.2" fill="#000"/>
<g filter="url(#soft)">
<circle cx="618.0" cy="97.0" r="28.6" fill="rgb(200,0,0)" fill-opacity="0.40" filter="url(#blur3)"/>
<g fill="rgb(175,0,0)" fill-opacity="0.62" stroke="rgb(60,0,0)" stroke-opacity="0.55" stroke-width="0.7">
<path d="M616.5 86.2 L614.7 83.2 L613.0 80.2 L611.2 77.4 L609.5 74.6 L607.8 71.9 L606.1 69.3 L604.4 66.7 L602.7 64.3 L601.0 61.9 L599.3 59.7 L597.6 57.6 L595.9 55.5 L594.1 53.6 L592.3 51.8 L590.5 50.1 L588.4 48.7 L588.4 48.7 L589.1 51.1 L590.0 53.4 L591.1 55.6 L592.2 57.9 L593.4 60.3 L594.7 62.7 L596.0 65.1 L597.3 67.6 L598.7 70.2 L600.2 72.8 L601.7 75.5 L603.2 78.3 L604.8 81.1 L606.4 84.0 L608.0 87.0 L609.6 90.1Z"/>
<path d="M621.4 86.3 L620.7 83.2 L620.1 80.2 L619.5 77.2 L618.9 74.4 L618.3 71.7 L617.8 69.0 L617.2 66.5 L616.7 64.0 L616.2 61.6 L615.6 59.4 L615.1 57.2 L614.5 55.1 L613.9 53.1 L613.3 51.3 L612.5 49.5 L611.5 47.7 L611.5 47.7 L610.6 49.6 L610.1 51.5 L609.8 53.5 L609.6 55.6 L609.5 57.8 L609.5 60.1 L609.5 62.5 L609.6 65.0 L609.8 67.5 L610.1 70.2 L610.4 72.9 L610.8 75.8 L611.2 78.7 L611.6 81.7 L612.1 84.8 L612.7 88.0Z"/>
<path d="M623.8 88.2 L624.7 84.9 L625.6 81.7 L626.4 78.7 L627.3 75.7 L628.1 72.9 L628.9 70.1 L629.7 67.5 L630.5 64.9 L631.2 62.4 L631.9 60.1 L632.5 57.8 L633.1 55.6 L633.7 53.5 L634.2 51.4 L634.6 49.4 L634.7 47.3 L634.7 47.3 L633.2 48.7 L631.8 50.3 L630.6 52.1 L629.4 54.0 L628.2 56.0 L627.1 58.2 L626.0 60.5 L624.9 62.9 L623.8 65.4 L622.8 68.0 L621.8 70.8 L620.7 73.6 L619.7 76.6 L618.7 79.7 L617.7 82.9 L616.7 86.1Z"/>
<path d="M626.9 89.9 L628.5 86.7 L630.1 83.6 L631.6 80.7 L633.0 77.9 L634.5 75.3 L635.9 72.8 L637.2 70.5 L638.5 68.3 L639.8 66.2 L641.0 64.3 L642.2 62.5 L643.3 60.8 L644.3 59.2 L645.3 57.7 L646.2 56.3 L647.0 54.6 L647.0 54.6 L645.1 54.9 L643.4 55.6 L641.7 56.6 L640.0 57.8 L638.4 59.2 L636.7 60.9 L635.0 62.7 L633.4 64.6 L631.7 66.8 L630.0 69.1 L628.4 71.6 L626.7 74.2 L625.0 77.0 L623.3 80.0 L621.6 83.1 L619.9 86.4Z"/>
<path d="M629.5 93.6 L633.0 91.2 L636.3 88.8 L639.6 86.7 L642.7 84.6 L645.8 82.7 L648.6 81.0 L651.4 79.4 L654.0 77.9 L656.5 76.5 L658.9 75.2 L661.1 74.1 L663.2 73.1 L665.2 72.1 L667.1 71.2 L668.9 70.4 L670.6 69.4 L670.6 69.4 L668.7 68.8 L666.6 68.7 L664.3 68.8 L662.0 69.2 L659.5 69.7 L656.9 70.5 L654.2 71.4 L651.4 72.5 L648.5 73.8 L645.5 75.3 L642.4 77.0 L639.2 78.8 L635.9 80.7 L632.4 82.9 L628.9 85.1 L625.2 87.6Z"/>
<path d="M629.5 96.4 L632.4 95.7 L635.1 95.1 L637.8 94.5 L640.3 93.9 L642.8 93.4 L645.1 93.0 L647.3 92.5 L649.4 92.1 L651.4 91.7 L653.4 91.3 L655.1 91.0 L656.8 90.7 L658.4 90.4 L659.9 90.0 L661.4 89.7 L662.7 89.1 L662.7 89.1 L661.4 88.4 L660.0 87.9 L658.4 87.6 L656.7 87.4 L654.9 87.3 L653.0 87.2 L650.9 87.3 L648.8 87.4 L646.6 87.6 L644.3 87.8 L641.8 88.2 L639.3 88.6 L636.7 89.0 L633.9 89.5 L631.1 90.1 L628.2 90.7Z"/>
<path d="M629.0 100.5 L632.4 100.3 L635.7 100.3 L638.8 100.3 L641.8 100.4 L644.7 100.5 L647.4 100.7 L650.0 101.0 L652.5 101.3 L654.9 101.7 L657.1 102.1 L659.2 102.5 L661.2 103.1 L663.1 103.6 L664.9 104.2 L666.7 104.8 L668.6 105.3 L668.6 105.3 L667.6 103.6 L666.2 102.1 L664.5 100.7 L662.7 99.5 L660.7 98.4 L658.5 97.5 L656.1 96.6 L653.6 95.9 L651.0 95.2 L648.2 94.7 L645.3 94.3 L642.2 94.0 L639.1 93.7 L635.7 93.6 L632.3 93.5 L628.7 93.6Z"/>
<path d="M627.5 103.6 L630.5 104.4 L633.3 105.3 L636.1 106.1 L638.8 106.9 L641.4 107.7 L643.9 108.5 L646.3 109.3 L648.6 110.1 L650.9 110.9 L653.0 111.6 L655.1 112.3 L657.1 113.0 L659.1 113.6 L661.0 114.2 L662.8 114.8 L664.7 115.1 L664.7 115.1 L663.4 113.7 L662.0 112.4 L660.3 111.2 L658.6 110.0 L656.7 108.9 L654.7 107.8 L652.6 106.7 L650.4 105.7 L648.1 104.7 L645.7 103.7 L643.2 102.7 L640.5 101.7 L637.8 100.8 L635.0 99.8 L632.2 98.9 L629.2 97.9Z"/>
<path d="M625.1 106.6 L628.7 108.1 L632.2 109.6 L635.6 111.1 L638.8 112.6 L641.9 114.1 L644.9 115.7 L647.7 117.2 L650.5 118.8 L653.1 120.3 L655.5 121.9 L657.9 123.4 L660.2 124.9 L662.3 126.5 L664.4 128.0 L666.5 129.5 L668.6 130.9 L668.6 130.9 L667.6 128.5 L666.2 126.3 L664.5 124.2 L662.7 122.1 L660.6 120.0 L658.4 118.0 L656.0 116.0 L653.5 114.1 L650.8 112.3 L647.9 110.4 L644.9 108.6 L641.7 106.9 L638.4 105.2 L635.0 103.5 L631.4 101.8 L627.7 100.2Z"/>
<path d="M622.4 107.5 L624.6 109.6 L626.9 111.7 L629.0 113.6 L631.1 115.6 L633.2 117.4 L635.2 119.2 L637.1 120.9 L639.0 122.6 L640.8 124.2 L642.6 125.7 L644.4 127.1 L646.1 128.5 L647.8 129.8 L649.5 130.9 L651.1 132.0 L652.9 132.9 L652.9 132.9 L652.0 131.1 L650.9 129.5 L649.7 127.8 L648.4 126.1 L647.0 124.5 L645.5 122.7 L643.9 121.0 L642.3 119.2 L640.6 117.3 L638.7 115.5 L636.9 113.5 L634.9 111.6 L632.9 109.6 L630.8 107.5 L628.6 105.4 L626.4 103.2Z"/>
<path d="M620.5 109.1 L622.6 111.4 L624.5 113.7 L626.4 115.8 L628.3 117.9 L630.0 119.9 L631.8 121.8 L633.5 123.6 L635.1 125.3 L636.7 126.9 L638.3 128.4 L639.8 129.8 L641.2 131.0 L642.7 132.2 L644.1 133.3 L645.5 134.2 L647.0 134.8 L647.0 134.8 L646.3 133.4 L645.5 131.9 L644.5 130.5 L643.4 129.0 L642.3 127.4 L641.1 125.8 L639.8 124.1 L638.4 122.4 L636.9 120.6 L635.4 118.7 L633.8 116.7 L632.1 114.6 L630.3 112.5 L628.5 110.3 L626.6 108.0 L624.7 105.6Z"/>
<path d="M618.2 109.1 L619.6 112.8 L620.9 116.4 L622.1 120.0 L623.3 123.4 L624.5 126.7 L625.7 130.0 L626.8 133.1 L627.9 136.1 L629.0 139.0 L630.1 141.9 L631.2 144.6 L632.2 147.2 L633.2 149.7 L634.3 152.1 L635.4 154.4 L636.7 156.5 L636.7 156.5 L636.7 154.0 L636.5 151.5 L636.1 148.9 L635.6 146.2 L635.0 143.4 L634.4 140.5 L633.6 137.6 L632.8 134.6 L632.0 131.4 L631.0 128.2 L630.0 124.9 L629.0 121.5 L627.9 118.0 L626.7 114.4 L625.5 110.8 L624.3 107.0Z"/>
<path d="M615.3 108.4 L615.4 110.6 L615.5 112.8 L615.6 114.8 L615.7 116.8 L615.9 118.7 L616.0 120.4 L616.2 122.1 L616.3 123.7 L616.5 125.2 L616.8 126.6 L617.0 127.9 L617.3 129.1 L617.6 130.2 L618.0 131.2 L618.4 132.1 L619.0 132.9 L619.0 132.9 L619.3 132.0 L619.5 131.0 L619.6 130.0 L619.7 128.9 L619.8 127.7 L619.9 126.4 L619.9 125.0 L619.9 123.5 L619.9 121.9 L619.9 120.2 L619.9 118.5 L619.8 116.6 L619.8 114.7 L619.8 112.6 L619.7 110.5 L619.7 108.3Z"/>
<path d="M610.6 106.4 L609.7 109.1 L608.8 111.7 L607.9 114.2 L607.0 116.6 L606.2 119.0 L605.4 121.2 L604.7 123.4 L603.9 125.4 L603.3 127.5 L602.6 129.4 L602.0 131.2 L601.5 133.0 L601.0 134.8 L600.6 136.4 L600.3 138.1 L600.3 139.8 L600.3 139.8 L601.7 138.8 L602.9 137.6 L604.1 136.3 L605.2 134.8 L606.3 133.2 L607.3 131.5 L608.4 129.7 L609.4 127.8 L610.4 125.8 L611.4 123.6 L612.4 121.4 L613.4 119.1 L614.4 116.7 L615.5 114.2 L616.5 111.6 L617.5 108.9Z"/>
<path d="M609.5 104.8 L607.4 107.5 L605.4 110.1 L603.4 112.5 L601.6 114.9 L599.8 117.1 L598.1 119.2 L596.5 121.2 L595.0 123.1 L593.5 124.8 L592.2 126.5 L591.0 128.1 L589.8 129.6 L588.8 130.9 L587.9 132.3 L587.1 133.5 L586.5 134.8 L586.5 134.8 L587.9 134.5 L589.3 133.8 L590.7 132.9 L592.2 131.9 L593.7 130.7 L595.2 129.3 L596.8 127.9 L598.5 126.2 L600.2 124.5 L602.0 122.6 L603.9 120.6 L605.8 118.4 L607.7 116.1 L609.8 113.7 L611.9 111.2 L614.1 108.5Z"/>
<path d="M606.9 102.6 L604.1 105.4 L601.5 108.1 L598.9 110.6 L596.5 113.0 L594.1 115.3 L591.9 117.5 L589.8 119.6 L587.7 121.5 L585.8 123.4 L584.0 125.1 L582.3 126.7 L580.7 128.3 L579.2 129.7 L577.9 131.1 L576.6 132.4 L575.6 133.9 L575.6 133.9 L577.4 133.6 L579.2 133.0 L581.0 132.1 L582.8 131.1 L584.8 129.9 L586.8 128.6 L588.9 127.1 L591.1 125.4 L593.3 123.6 L595.7 121.7 L598.1 119.6 L600.6 117.4 L603.1 115.0 L605.8 112.5 L608.6 109.9 L611.4 107.2Z"/>
<path d="M606.4 99.2 L603.5 100.3 L600.7 101.4 L597.9 102.5 L595.3 103.5 L592.8 104.5 L590.4 105.5 L588.1 106.5 L585.9 107.5 L583.9 108.4 L581.9 109.3 L580.0 110.2 L578.3 111.2 L576.7 112.1 L575.2 113.0 L573.8 114.0 L572.7 115.1 L572.7 115.1 L574.3 115.2 L576.0 115.0 L577.7 114.6 L579.5 114.2 L581.4 113.7 L583.4 113.2 L585.5 112.6 L587.6 111.9 L589.9 111.2 L592.2 110.4 L594.7 109.5 L597.3 108.7 L599.9 107.7 L602.7 106.8 L605.5 105.8 L608.5 104.7Z"/>
<path d="M606.4 95.8 L604.0 96.3 L601.7 96.8 L599.5 97.3 L597.4 97.7 L595.4 98.2 L593.5 98.7 L591.6 99.2 L589.9 99.7 L588.3 100.2 L586.7 100.7 L585.2 101.2 L583.9 101.7 L582.6 102.3 L581.5 102.8 L580.4 103.5 L579.6 104.3 L579.6 104.3 L580.7 104.5 L581.9 104.5 L583.2 104.5 L584.6 104.4 L586.0 104.2 L587.5 104.0 L589.1 103.8 L590.8 103.5 L592.5 103.2 L594.4 102.9 L596.3 102.6 L598.3 102.2 L600.4 101.8 L602.7 101.4 L604.9 101.0 L607.3 100.6Z"/>
<path d="M607.1 92.0 L603.8 91.8 L600.6 91.6 L597.6 91.3 L594.6 91.1 L591.9 90.8 L589.2 90.6 L586.7 90.3 L584.3 90.1 L582.1 89.9 L580.0 89.6 L578.0 89.4 L576.2 89.3 L574.4 89.1 L572.8 89.0 L571.2 89.0 L569.7 89.1 L569.7 89.1 L570.8 90.3 L572.1 91.2 L573.6 92.0 L575.3 92.7 L577.1 93.4 L579.1 94.0 L581.2 94.6 L583.5 95.2 L585.9 95.7 L588.5 96.1 L591.1 96.6 L594.0 97.0 L596.9 97.4 L600.0 97.8 L603.2 98.1 L606.6 98.4Z"/>
<path d="M608.7 89.7 L606.2 88.9 L603.8 88.1 L601.5 87.3 L599.3 86.6 L597.1 85.9 L595.1 85.3 L593.2 84.7 L591.3 84.2 L589.5 83.7 L587.9 83.2 L586.3 82.9 L584.8 82.5 L583.4 82.3 L582.1 82.1 L580.8 82.1 L579.6 82.2 L579.6 82.2 L580.4 83.2 L581.4 83.9 L582.5 84.7 L583.8 85.4 L585.1 86.1 L586.6 86.8 L588.2 87.5 L589.8 88.3 L591.6 89.0 L593.5 89.8 L595.5 90.6 L597.6 91.4 L599.8 92.2 L602.1 93.0 L604.5 93.9 L607.0 94.8Z"/>
<path d="M610.4 87.8 L608.0 86.4 L605.7 85.0 L603.4 83.6 L601.2 82.3 L599.1 81.1 L597.1 80.0 L595.2 78.9 L593.3 77.8 L591.5 76.8 L589.8 75.9 L588.1 75.1 L586.5 74.3 L585.0 73.7 L583.5 73.1 L582.1 72.6 L580.5 72.4 L580.5 72.4 L581.3 73.7 L582.4 74.8 L583.5 76.0 L584.8 77.1 L586.1 78.2 L587.6 79.4 L589.1 80.6 L590.8 81.8 L592.5 83.1 L594.4 84.3 L596.3 85.7 L598.3 87.0 L600.4 88.4 L602.6 89.8 L604.9 91.3 L607.3 92.8Z"/>
<path d="M612.6 86.0 L610.4 84.0 L608.2 82.0 L606.1 80.0 L604.1 78.2 L602.2 76.4 L600.3 74.6 L598.5 73.0 L596.8 71.4 L595.1 69.8 L593.5 68.4 L591.9 67.0 L590.4 65.7 L588.9 64.5 L587.5 63.4 L586.1 62.3 L584.5 61.5 L584.5 61.5 L585.0 63.2 L585.8 64.8 L586.7 66.5 L587.7 68.1 L588.9 69.8 L590.2 71.4 L591.6 73.2 L593.1 74.9 L594.6 76.8 L596.3 78.6 L598.1 80.5 L599.9 82.4 L601.9 84.4 L603.9 86.4 L606.0 88.5 L608.2 90.7Z"/>
</g>
<circle cx="618.0" cy="97.0" r="25.2" fill="url(#g4)"/>
</g>
<text class="pl" x="618.0" y="156.7" text-anchor="middle">200.0</text>
</g>
<text transform="translate(8.75 200.7) scale(0.94 1)" font-size="28.6" font-weight="bold" fill="#000">B</text>
<rect x="86.20" y="647.40" width="67.50" height="73.60" fill="#F9DEAE"/>
<rect x="160.93" y="696.47" width="67.50" height="24.53" fill="#F9DEAE"/>
<rect x="235.65" y="696.47" width="67.50" height="24.53" fill="#F9DEAE"/>
<rect x="459.82" y="622.87" width="67.50" height="98.13" fill="#F9DEAE"/>
<rect x="534.55" y="254.87" width="67.50" height="466.13" fill="#F9DEAE"/>
<path d="M194.80 224.83 L198.54 242.26 L202.28 259.13 L206.02 275.44 L209.76 291.18 L213.50 306.36 L217.24 320.95 L220.98 334.97 L224.72 348.40 L228.46 361.25 L232.20 373.52 L235.94 385.21 L239.68 396.33 L243.42 406.89 L247.16 416.89 L250.90 426.36 L254.64 435.31 L258.38 443.75 L262.12 451.71 L265.86 459.19 L269.60 466.22 L273.34 472.81 L277.08 478.97 L280.82 484.74 L284.56 490.11 L288.30 495.10 L292.04 499.73 L295.78 503.99 L299.52 507.92 L303.26 511.50 L307.00 514.75 L310.74 517.68 L314.48 520.30 L318.22 522.60 L321.96 524.58 L325.70 526.27 L329.44 527.65 L333.18 528.73 L336.92 529.52 L340.66 530.00 L344.40 530.19 L348.14 530.09 L351.88 529.69 L355.62 528.99 L359.36 527.99 L363.10 526.69 L366.84 525.09 L370.58 523.19 L374.32 520.98 L378.06 518.45 L381.80 515.60 L385.54 512.44 L389.28 508.94 L393.02 505.10 L396.76 500.92 L400.50 496.38 L404.24 491.47 L407.98 486.18 L411.72 480.50 L415.46 474.42 L419.20 467.92 L422.94 460.97 L426.68 453.58 L430.42 445.71 L434.16 437.35 L437.90 428.49 L441.64 419.10 L445.38 409.18 L449.12 398.71 L452.86 387.67 L456.60 376.07 L460.34 363.88 L464.08 351.12 L467.82 337.77 L471.56 323.84 L475.30 309.33 L479.04 294.24 L482.78 278.59 L486.52 262.36 L490.26 245.57 L494.00 228.23 L494.00 390.29 L490.26 400.77 L486.52 411.11 L482.78 421.29 L479.04 431.34 L475.30 441.25 L471.56 451.03 L467.82 460.69 L464.08 470.22 L460.34 479.63 L456.60 488.91 L452.86 498.07 L449.12 507.09 L445.38 515.96 L441.64 524.68 L437.90 533.22 L434.16 541.59 L430.42 549.75 L426.68 557.70 L422.94 565.41 L419.20 572.86 L415.46 580.05 L411.72 586.96 L407.98 593.56 L404.24 599.85 L400.50 605.81 L396.76 611.43 L393.02 616.70 L389.28 621.61 L385.54 626.15 L381.80 630.32 L378.06 634.10 L374.32 637.49 L370.58 640.49 L366.84 643.10 L363.10 645.30 L359.36 647.10 L355.62 648.49 L351.88 649.47 L348.14 650.04 L344.40 650.21 L340.66 649.96 L336.92 649.30 L333.18 648.23 L329.44 646.76 L325.70 644.87 L321.96 642.59 L318.22 639.90 L314.48 636.81 L310.74 633.33 L307.00 629.47 L303.26 625.21 L299.52 620.59 L295.78 615.59 L292.04 610.24 L288.30 604.53 L284.56 598.49 L280.82 592.11 L277.08 585.43 L273.34 578.44 L269.60 571.16 L265.86 563.62 L262.12 555.83 L258.38 547.79 L254.64 539.55 L250.90 531.10 L247.16 522.47 L243.42 513.66 L239.68 504.71 L235.94 495.60 L232.20 486.36 L228.46 477.00 L224.72 467.50 L220.98 457.89 L217.24 448.14 L213.50 438.28 L209.76 428.28 L206.02 418.15 L202.28 407.88 L198.54 397.46 L194.80 386.89Z" fill="#C4E5D8"/>
<path d="M196.25 306.11 L199.99 320.15 L203.73 333.83 L207.47 347.16 L211.21 360.14 L214.95 372.76 L218.69 385.03 L222.43 396.94 L226.17 408.50 L229.91 419.70 L233.65 430.55 L237.39 441.05 L241.13 451.19 L244.87 460.98 L248.61 470.41 L252.35 479.49 L256.09 488.21 L259.83 496.58 L263.57 504.60 L267.31 512.26 L271.05 519.56 L274.79 526.52 L278.53 533.12 L282.27 539.36 L286.01 545.25 L289.75 550.78 L293.49 555.97 L297.23 560.79 L300.97 565.27 L304.71 569.38 L308.45 573.15 L312.19 576.56 L315.93 579.61 L319.67 582.31 L323.41 584.66 L327.15 586.65 L330.89 588.29 L334.63 589.57 L338.37 590.50 L342.11 591.08 L345.85 591.30 L349.59 591.17 L353.33 590.68 L357.07 589.84 L360.81 588.64 L364.55 587.09 L368.29 585.19 L372.03 582.93 L375.77 580.31 L379.51 577.34 L383.25 574.02 L386.99 570.35 L390.73 566.32 L394.47 561.93 L398.21 557.19 L401.95 552.10 L405.69 546.65 L409.43 540.85 L413.17 534.69 L416.91 528.18 L420.65 521.31 L424.39 514.10 L428.13 506.52 L431.87 498.59 L435.61 490.31 L439.35 481.67 L443.09 472.68 L446.83 463.34 L450.57 453.64 L454.31 443.59 L458.05 433.18 L461.79 422.42 L465.53 411.30 L469.27 399.83 L473.01 388.00 L476.75 375.82 L480.49 363.29 L484.23 350.40 L487.97 337.16 L491.71 323.56 L495.45 309.61" fill="none" stroke="#6CBB9C" stroke-width="5.4" stroke-linecap="butt" stroke-linejoin="round"/>
<path d="M121.5 721.5 L196.4 305.0" fill="none" stroke="#6CBB9C" stroke-width="2.8" stroke-dasharray="8.4 5.08" stroke-dashoffset="2.6"/>
<path d="M495.1 310.8 L569.8 562.0" fill="none" stroke="#6CBB9C" stroke-width="2.8" stroke-dasharray="8.4 5.08" stroke-dashoffset="0.2"/>
<line x1="196.55" y1="254.5" x2="196.55" y2="356.0" stroke="#6CBB9C" stroke-width="2.9"/>
<line x1="270.90" y1="488.2" x2="270.90" y2="558.8" stroke="#6CBB9C" stroke-width="2.9"/>
<line x1="345.75" y1="557.5" x2="345.75" y2="621.2" stroke="#6CBB9C" stroke-width="2.9"/>
<line x1="420.50" y1="463.1" x2="420.50" y2="580.3" stroke="#6CBB9C" stroke-width="2.9"/>
<line x1="495.15" y1="276.6" x2="495.15" y2="345.7" stroke="#6CBB9C" stroke-width="2.9"/>
<line x1="569.85" y1="546.0" x2="569.85" y2="578.8" stroke="#6CBB9C" stroke-width="2.9"/>
<circle cx="121.5" cy="721.5" r="9.3" fill="#6CBB9C"/>
<circle cx="196.4" cy="305.0" r="9.3" fill="#6CBB9C"/>
<circle cx="270.8" cy="522.8" r="9.3" fill="#6CBB9C"/>
<circle cx="345.7" cy="588.8" r="9.3" fill="#6CBB9C"/>
<circle cx="420.5" cy="521.9" r="9.3" fill="#6CBB9C"/>
<circle cx="495.1" cy="310.8" r="9.3" fill="#6CBB9C"/>
<circle cx="569.8" cy="562.0" r="9.3" fill="#6CBB9C"/>
<g stroke="#000" stroke-width="2.3" fill="none" stroke-linecap="round" stroke-linejoin="round">
<path d="M196.2 183.6V210"/><path d="M495.5 183.6V210" />
<path d="M197.6 196.5H262.6"/><path d="M217.6 188.3L197.6 196.5L217.6 204.8"/>
<path d="M426.6 196.5H494.1"/><path d="M474.1 188.3L494.1 196.5L474.1 204.8"/>
</g>
<text transform="translate(344.2 202.6) scale(0.95 1)" font-size="20" fill="#000" text-anchor="middle">Stable symbiosis</text>
<text x="287.2" y="289.3" font-size="18.5" fill="#6CBB9C">R<tspan font-size="13" dy="-5.9">2</tspan><tspan dy="5.9"> = 0.461**</tspan></text>
<rect x="62.1" y="181.7" width="566.9" height="566.4" fill="none" stroke="#000" stroke-width="1.7"/>
<g stroke="#000" stroke-width="1.5">
<line x1="58.2" x2="62.1" y1="721.40" y2="721.40"/>
<line x1="58.2" x2="62.1" y1="618.60" y2="618.60"/>
<line x1="58.2" x2="62.1" y1="515.80" y2="515.80"/>
<line x1="58.2" x2="62.1" y1="413.00" y2="413.00"/>
<line x1="58.2" x2="62.1" y1="310.20" y2="310.20"/>
<line x1="58.2" x2="62.1" y1="207.40" y2="207.40"/>
<line x1="629.0" x2="633.8" y1="721.70" y2="721.70"/>
<line x1="629.0" x2="633.8" y1="574.80" y2="574.80"/>
<line x1="629.0" x2="633.8" y1="427.90" y2="427.90"/>
<line x1="629.0" x2="633.8" y1="281.00" y2="281.00"/>
<line x1="121.60" x2="121.60" y1="748.0" y2="751.8"/>
<line x1="196.40" x2="196.40" y1="748.0" y2="751.8"/>
<line x1="271.20" x2="271.20" y1="748.0" y2="751.8"/>
<line x1="346.00" x2="346.00" y1="748.0" y2="751.8"/>
<line x1="420.80" x2="420.80" y1="748.0" y2="751.8"/>
<line x1="495.60" x2="495.60" y1="748.0" y2="751.8"/>
<line x1="570.40" x2="570.40" y1="748.0" y2="751.8"/>
</g>
<text class="tl" transform="translate(52.6 720.30) rotate(-90)" text-anchor="middle">0</text>
<text class="tl" transform="translate(52.6 617.50) rotate(-90)" text-anchor="middle">500</text>
<text class="tl" transform="translate(52.6 514.70) rotate(-90)" text-anchor="middle">1000</text>
<text class="tl" transform="translate(52.6 411.90) rotate(-90)" text-anchor="middle">1500</text>
<text class="tl" transform="translate(52.6 309.10) rotate(-90)" text-anchor="middle">2000</text>
<text class="tl" transform="translate(52.6 206.30) rotate(-90)" text-anchor="middle">2500</text>
<text class="tr" transform="translate(650.2 720.80) rotate(-90)" text-anchor="middle">0</text>
<text class="tr" transform="translate(650.2 573.90) rotate(-90)" text-anchor="middle">20</text>
<text class="tr" transform="translate(650.2 427.00) rotate(-90)" text-anchor="middle">40</text>
<text class="tr" transform="translate(650.2 280.10) rotate(-90)" text-anchor="middle">60</text>
<text class="tx" x="120.60" y="765.3" text-anchor="middle">&lt; 6.25</text>
<text class="tx" x="195.40" y="765.3" text-anchor="middle">12.50</text>
<text class="tx" x="270.20" y="765.3" text-anchor="middle">25.00</text>
<text class="tx" x="345.00" y="765.3" text-anchor="middle">50.00</text>
<text class="tx" x="419.80" y="765.3" text-anchor="middle">100.00</text>
<text class="tx" x="494.60" y="765.3" text-anchor="middle">200.00</text>
<text class="tx" x="569.40" y="765.3" text-anchor="middle">400.00</text>
<text class="ttl" x="344.1" y="790.7" text-anchor="middle">PAR [<tspan font-style="italic">μ</tspan>E m<tspan class="sup" dy="-8">−2</tspan><tspan dy="8"> s</tspan><tspan class="sup" dy="-8">−1</tspan><tspan dy="8">]</tspan></text>
<text transform="translate(28.2 437.2) rotate(-90)" font-size="18.85" fill="#6CBB9C" text-anchor="middle">Symbiont denisty [cells <tspan font-style="italic">μ</tspan>g protein<tspan class="sup" dy="-8">−1</tspan><tspan dy="8">]</tspan></text>
<text transform="translate(672.2 463.5) rotate(-90)" font-size="18.85" fill="#F0A53A" text-anchor="middle">Host mortality [%]</text>
</svg>
</body></html>
